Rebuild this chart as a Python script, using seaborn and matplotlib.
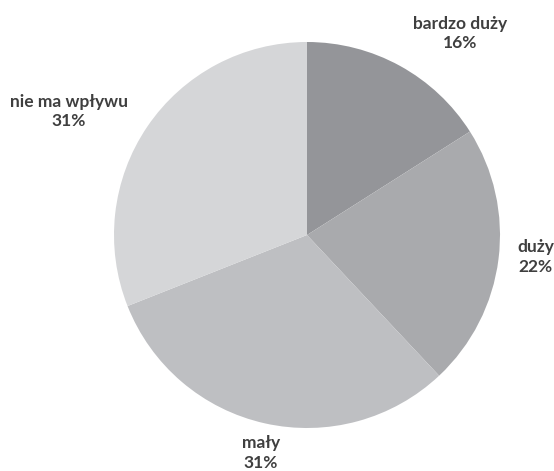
import numpy as np
import seaborn as sns
import matplotlib.pyplot as plt

# Dane: wpływ (kategorie i udziały w %)
kategorie = ['bardzo duży', 'duży', 'mały', 'nie ma wpływu']
udzialy = [16, 22, 31, 31]
kolory = ['#949599', '#a9aaad', '#bebfc2', '#d5d6d8']

sns.set_theme(style='white')
plt.rcParams['font.family'] = ['Lato', 'DejaVu Sans']

fig = plt.figure(figsize=(5.54, 4.71), dpi=100)
# os z kołem: środek ok. (307, 235) px, promień ok. 193 px
ax = fig.add_axes([114 / 554, (471 - 428) / 471, 386 / 554, 386 / 471])

wedges, _ = ax.pie(udzialy, colors=kolory, startangle=90, counterclock=False,
                   radius=1, wedgeprops=dict(linewidth=0))

# etykiety w stylu Excela (najlepsze dopasowanie)
odl = [1.31, 1.19, 1.155, 1.39]
korekta = [-8.4, 1.7, 0.6, 6.7]
for w, kat, u, d, k in zip(wedges, kategorie, udzialy, odl, korekta):
    kat_sr = np.deg2rad((w.theta1 + w.theta2) / 2 + k)
    ax.text(d * np.cos(kat_sr), d * np.sin(kat_sr), f'{kat}\n{u}%',
            ha='center', va='center', fontsize=12.5, fontweight='bold',
            color='#3f3f3f', linespacing=1.25)

ax.set_xlim(-1, 1)
ax.set_ylim(-1, 1)
ax.set_aspect('equal')
ax.axis('off')

plt.savefig('out.png', dpi=100)
